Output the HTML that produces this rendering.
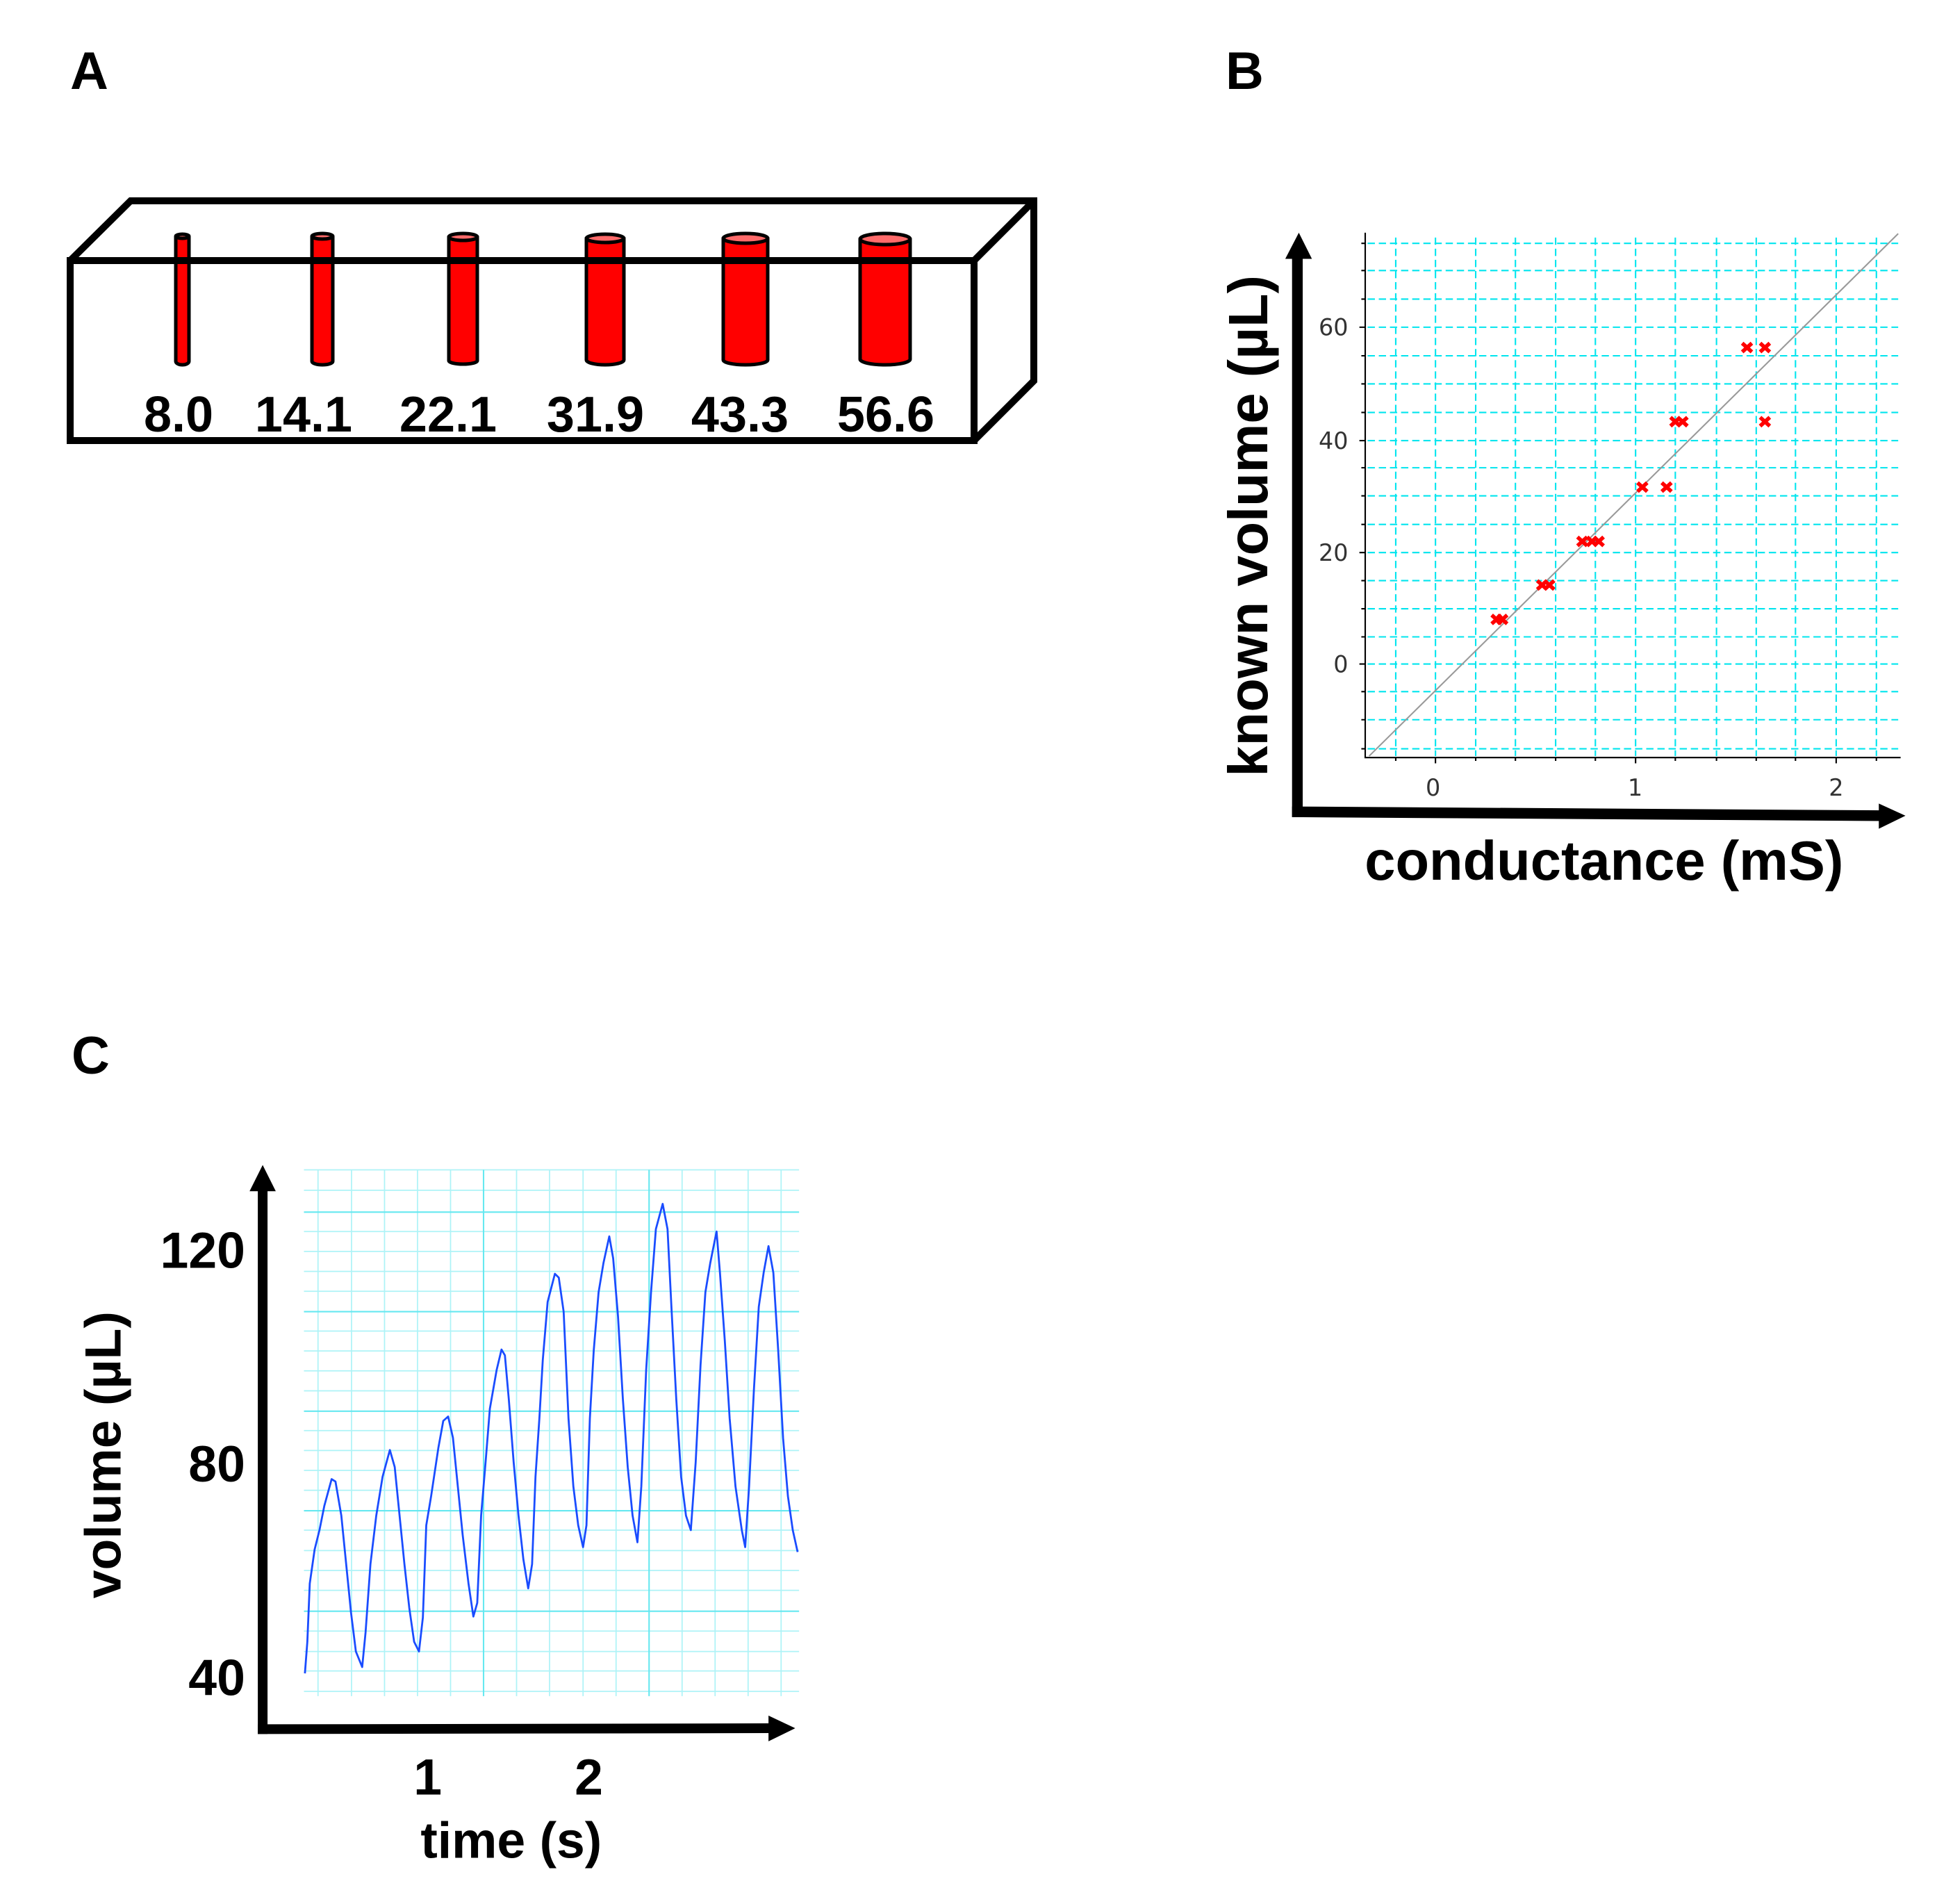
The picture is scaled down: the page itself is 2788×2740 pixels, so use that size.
<!DOCTYPE html>
<html><head><meta charset="utf-8"><style>html,body{margin:0;padding:0;background:#fff}svg{display:block}</style></head>
<body>
<svg width="2788" height="2740" viewBox="0 0 2788 2740" xmlns="http://www.w3.org/2000/svg" font-family="Liberation Sans, Arial, sans-serif">
<rect width="2788" height="2740" fill="#fff"/>
<!-- Panel A -->
<text x="101" y="128" font-size="76" font-weight="bold">A</text>
<g stroke="#000" stroke-width="10" fill="none" stroke-linejoin="miter">
<polyline points="101,375 188,289 1488,289 1488,548 1402,634"/>
<line x1="1402" y1="375" x2="1488" y2="289"/>
</g>
<g stroke="#000" stroke-width="5">
<g fill="#ff0000">
<path d="M253,342 V520 A9.5,5 0 0 0 272,520 V342 Z"/>
<path d="M449,342 V520 A15,5 0 0 0 479,520 V342 Z"/>
<path d="M646,342 V519 A20.5,5 0 0 0 687,519 V342 Z"/>
<path d="M844,344 V518 A27,7 0 0 0 898,518 V344 Z"/>
<path d="M1041,344 V518 A32,7 0 0 0 1105,518 V344 Z"/>
<path d="M1238,345 V517 A36,8 0 0 0 1310,517 V345 Z"/>
</g>
<g fill="#ff6a6a">
<ellipse cx="262.5" cy="340" rx="9.5" ry="3"/>
<ellipse cx="464" cy="340" rx="15" ry="4"/>
<ellipse cx="666.5" cy="341" rx="20.5" ry="5"/>
<ellipse cx="871" cy="343" rx="27" ry="6"/>
<ellipse cx="1073" cy="343" rx="32" ry="7"/>
<ellipse cx="1274" cy="344" rx="36" ry="8"/>
</g>
</g>
<rect x="101" y="375" width="1301" height="259" fill="none" stroke="#000" stroke-width="10"/>
<g font-size="72" font-weight="bold" text-anchor="middle">
<text x="257" y="621">8.0</text><text x="437" y="621">14.1</text><text x="645" y="621">22.1</text>
<text x="857" y="621">31.9</text><text x="1065" y="621">43.3</text><text x="1275" y="621">56.6</text>
</g>
<text x="1764" y="128" font-size="76" font-weight="bold">B</text>
<text x="103" y="1545" font-size="76" font-weight="bold">C</text>

<!-- Panel B -->
<g transform="translate(1700,300) scale(0.6974)">
<g stroke="#00e5ee" stroke-width="3" stroke-dasharray="15,8" fill="none">
<path d="M443,60V1130M525,60V1130M608,60V1130M690,60V1130M773,60V1130M855,60V1130M938,60V1130M1020,60V1130M1105,60V1130M1187,60V1130M1268,60V1130M1352,60V1130M1435,60V1130"/>
<path d="M385,72H1480M385,128H1480M385,187H1480M385,245H1480M385,304H1480M385,362H1480M385,421H1480M385,479H1480M385,535H1480M385,593H1480M385,652H1480M385,710H1480M385,768H1480M385,826H1480M385,884H1480M385,940H1480M385,997H1480M385,1055H1480M385,1115H1480"/>
</g>
<g stroke="#000" stroke-width="3" fill="none">
<path d="M380,50V1133H1485"/>
<path d="M372,72H380M372,128H380M372,187H380M368,245H380M372,304H380M372,362H380M372,421H380M368,479H380M372,535H380M372,593H380M372,652H380M368,710H380M372,768H380M372,826H380M372,884H380M368,940H380M372,997H380M372,1055H380M372,1115H380"/>
<path d="M443,1133v7M525,1133v12M608,1133v7M690,1133v7M773,1133v7M855,1133v7M938,1133v12M1020,1133v7M1105,1133v7M1187,1133v7M1268,1133v7M1352,1133v12M1435,1133v7"/>
</g>
<line x1="388" y1="1130" x2="1480" y2="52" stroke="#999" stroke-width="3"/>
<g stroke="#ff0000" stroke-width="8">
<path id="x" d="M-10,-9L10,9M-10,9L10,-9" transform="translate(651,848)"/>
<use href="#x" x="12" y="0"/>
<use href="#x" x="94" y="-71"/><use href="#x" x="109" y="-71"/>
<use href="#x" x="177" y="-161"/><use href="#x" x="197" y="-161"/><use href="#x" x="211" y="-161"/>
<use href="#x" x="301" y="-273"/><use href="#x" x="351" y="-273"/>
<use href="#x" x="369" y="-408"/><use href="#x" x="384" y="-408"/><use href="#x" x="554" y="-408"/>
<use href="#x" x="517" y="-561"/><use href="#x" x="554" y="-561"/>
</g>
<g font-family="DejaVu Sans, sans-serif" font-size="48" fill="#333" text-anchor="end">
<text x="345" y="262">60</text><text x="345" y="496">40</text><text x="345" y="727">20</text><text x="345" y="957">0</text>
</g>
<g font-family="DejaVu Sans, sans-serif" font-size="48" fill="#333" text-anchor="middle">
<text x="520" y="1212">0</text><text x="937" y="1212">1</text><text x="1352" y="1212">2</text>
</g>
<line x1="240" y1="95" x2="240" y2="1256" stroke="#000" stroke-width="22"/>
<polygon points="243,50 270,104 215,104" fill="#000"/>
<polygon points="229,1234 1445,1242 1445,1264 229,1256" fill="#000"/>
<polygon points="1495,1253 1440,1228 1440,1280" fill="#000"/>
<text transform="translate(178,655) rotate(-90)" font-size="114" font-weight="bold" text-anchor="middle">known volume (µL)</text>
<text x="873" y="1385" font-size="114" font-weight="bold" text-anchor="middle">conductance (mS)</text>
</g>

<!-- Panel C -->
<g transform="translate(100,1650) scale(0.6987)">
<g stroke="#aef3f7" stroke-width="2.5" fill="none">
<path d="M512,48V1132M581,48V1132M649,48V1132M717,48V1132M785,48V1132M921,48V1132M989,48V1132M1058,48V1132M1126,48V1132M1262,48V1132M1330,48V1132M1398,48V1132M1466,48V1132"/>
<path d="M483,48H1503M483,90H1503M483,175H1503M483,216H1503M483,257H1503M483,298H1503M483,380H1503M483,421H1503M483,462H1503M483,503H1503M483,585H1503M483,626H1503M483,667H1503M483,708H1503M483,790H1503M483,832H1503M483,873H1503M483,914H1503M483,998H1503M483,1040H1503M483,1080H1503M483,1122H1503"/>
</g>
<g stroke="#66e8f0" stroke-width="3" fill="none">
<path d="M853,48V1132M1194,48V1132M483,135H1503M483,340H1503M483,545H1503M483,750H1503M483,957H1503"/>
</g>
<polyline fill="none" stroke="#1a4cff" stroke-width="4" stroke-linejoin="round" points="485,1085 490,1020 495,900 505,830 515,790 525,740 540,685 548,690 560,760 570,860 580,960 590,1040 603,1072 610,1000 620,860 632,760 645,680 660,625 670,660 680,760 690,860 700,950 710,1020 720,1040 728,970 735,780 745,720 760,620 770,565 780,556 790,600 800,700 810,800 822,900 832,968 840,940 848,760 858,640 866,540 880,460 890,418 897,430 905,520 915,650 925,760 935,850 945,910 953,860 960,680 968,560 975,440 985,320 1000,262 1008,270 1018,340 1028,560 1038,700 1048,780 1058,825 1065,780 1072,560 1080,420 1090,300 1100,240 1112,185 1120,230 1130,350 1140,520 1150,660 1160,760 1170,815 1178,700 1188,460 1198,300 1208,170 1222,118 1232,170 1240,330 1250,520 1260,680 1270,760 1280,790 1290,650 1300,450 1310,300 1320,240 1333,175 1340,260 1350,400 1360,560 1372,700 1385,790 1392,825 1400,700 1410,500 1420,330 1430,260 1440,205 1450,260 1460,420 1470,600 1480,720 1490,790 1500,835"/>
<line x1="398" y1="85" x2="398" y2="1210" stroke="#000" stroke-width="20"/>
<polygon points="398,38 425,92 371,92" fill="#000"/>
<line x1="388" y1="1200" x2="1445" y2="1198" stroke="#000" stroke-width="20"/>
<polygon points="1495,1198 1440,1172 1440,1225" fill="#000"/>
<g font-size="105" font-weight="bold" text-anchor="end">
<text x="362" y="250">120</text><text x="362" y="690">80</text><text x="362" y="1130">40</text>
</g>
<g font-size="105" font-weight="bold" text-anchor="middle">
<text x="738" y="1335">1</text><text x="1070" y="1335">2</text>
<text x="910" y="1465">time (s)</text>
<text transform="translate(105,635) rotate(-90)">volume (µL)</text>
</g>
</g>
</svg>
</body></html>
